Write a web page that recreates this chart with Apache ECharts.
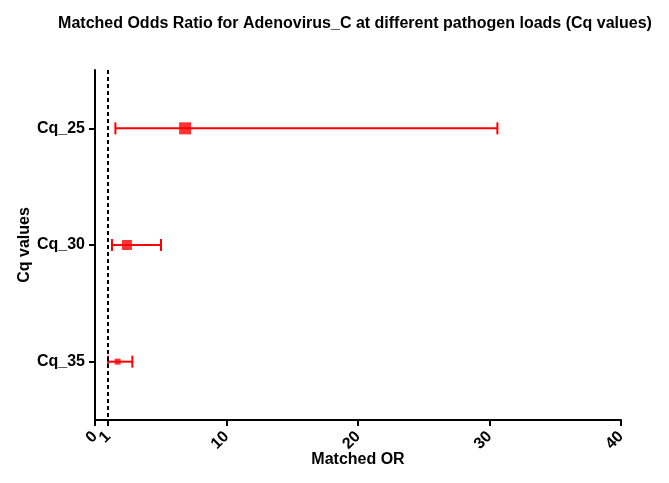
<!DOCTYPE html>
<html>
<head>
<meta charset="utf-8">
<script src="https://cdn.jsdelivr.net/npm/echarts@6/dist/echarts.min.js"></script>
<style>html,body{margin:0;padding:0;background:#fff}#c{width:669px;height:483px}</style>
</head>
<body>
<div id="c"></div>
<script>
const categories = ['Cq_25', 'Cq_30', 'Cq_35'];
const oddsRatio = [6.85, 2.43, 1.72];
const lowerCI = [1.55, 1.29, 0.99];
const upperCI = [30.6, 5.02, 2.84];
const markerSizes = [12, 10, 6];
const xTicks = [0, 1, 10, 20, 30, 40];
const refLine = 1;

const FONT = '"Liberation Sans", Arial, sans-serif';
const chart = echarts.init(document.getElementById('c'), null, {renderer: 'canvas'});

const errData = categories.map((c, i) => [lowerCI[i], upperCI[i], i]);
const ptData = categories.map((c, i) => ({value: [oddsRatio[i], i], symbolSize: markerSizes[i]}));

chart.setOption({
  animation: false,
  backgroundColor: '#fff',
  title: {
    text: 'Matched Odds Ratio for Adenovirus_C at different pathogen loads (Cq values)',
    left: 350, top: 11, textAlign: 'center',
    textStyle: {fontFamily: FONT, fontWeight: 'bold', fontSize: 16, color: '#000'}
  },
  grid: {left: 95, right: 48, top: 70, bottom: 63},
  xAxis: {
    type: 'value', min: 0, max: 40, interval: 10,
    name: 'Matched OR', nameLocation: 'middle', nameGap: 32, nameMoveOverlap: false,
    nameTextStyle: {fontFamily: FONT, fontWeight: 'bold', fontSize: 16, color: '#000'},
    axisLine: {show: true, lineStyle: {color: '#000', width: 2}},
    axisTick: {show: true, length: 6, lineStyle: {color: '#000', width: 2}, customValues: xTicks},
    axisLabel: {rotate: 45, fontFamily: FONT, fontWeight: 'bold', fontSize: 16, color: '#000', margin: 14, customValues: xTicks},
    splitLine: {show: false}
  },
  yAxis: {
    type: 'category', data: categories, inverse: true, boundaryGap: true,
    name: 'Cq values', nameLocation: 'middle', nameGap: 62, nameRotate: 90, nameMoveOverlap: false,
    nameTextStyle: {fontFamily: FONT, fontWeight: 'bold', fontSize: 16, color: '#000'},
    axisLine: {show: true, lineStyle: {color: '#000', width: 2}},
    axisTick: {show: true, alignWithLabel: true, length: 6, lineStyle: {color: '#000', width: 2}},
    axisLabel: {fontFamily: FONT, fontWeight: 'bold', fontSize: 16, color: '#000', margin: 10},
    splitLine: {show: false}
  },
  series: [
    {
      type: 'custom',
      data: errData,
      encode: {x: [0, 1], y: 2},
      renderItem: function (params, api) {
        const idx = api.value(2);
        const p0 = api.coord([api.value(0), idx]);
        const p1 = api.coord([api.value(1), idx]);
        const h = 6;
        const style = {stroke: '#ff0000', lineWidth: 2};
        return {
          type: 'group',
          children: [
            {type: 'line', shape: {x1: p0[0], y1: p0[1], x2: p1[0], y2: p1[1]}, style: style},
            {type: 'line', shape: {x1: p0[0], y1: p0[1] - h, x2: p0[0], y2: p0[1] + h}, style: style},
            {type: 'line', shape: {x1: p1[0], y1: p1[1] - h, x2: p1[0], y2: p1[1] + h}, style: style}
          ]
        };
      },
      z: 2
    },
    {
      type: 'scatter',
      symbol: 'rect',
      data: ptData,
      itemStyle: {color: '#ff0000'},
      z: 3,
      markLine: {
        silent: true,
        symbol: ['none', 'none'],
        label: {show: false},
        lineStyle: {color: '#000', type: [4, 3], width: 2},
        data: [{xAxis: refLine}]
      }
    }
  ]
});
</script>
</body>
</html>
